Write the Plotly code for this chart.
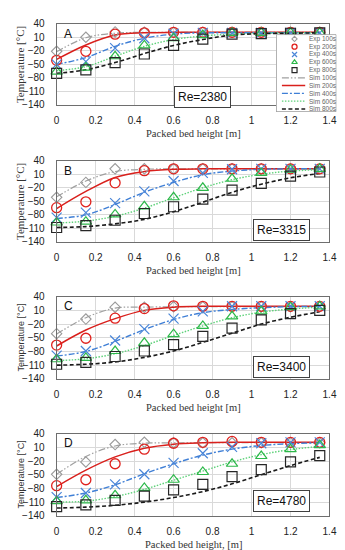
import plotly.graph_objects as go

# ---------------- data ----------------
X = [0, 0.15, 0.3, 0.45, 0.6, 0.75, 0.9, 1.05, 1.2, 1.35]
PANEL_LABELS = ["A", "B", "C", "D"]
RE_LABELS = ["Re=2380", "Re=3315", "Re=3400", "Re=4780"]
SERIES_NAMES = ["100s", "200s", "400s", "600s", "800s"]
X_TICKS = [0, 0.2, 0.4, 0.6, 0.8, 1, 1.2, 1.4]
X_TICK_TEXT = ["0", "0.2", "0.4", "0.6", "0.8", "1", "1.2", "1.4"]
Y_TICKS = [40, 10, -20, -50, -80, -110, -140]
X_TITLES = ["Packed bed height [m]", "Packed bed height [m]",
            "Packed bed height [m]", "Packed bed height, [m]"]
Y_TITLE = "Temperature [°C]"

# Panel A (Re=2380)
A_exp100 = [-21, 10, 22, 21, 21, 21, 21, 21, 21, 21]
A_exp200 = [-41, -21, 17, 20, 21, 21, 21, 21, 21, 21]
A_exp400 = [-50, -44, -14, 8, 18, 20, 20, 20, 20, 20]
A_exp600 = [-66, -57, -32, -8, 8, 15, 20, 20, 20, 20]
A_exp800 = [-70, -62, -46, -27, -8, 6, 17, 18, 19, 20]
A_sim100 = [-22, 9, 19, 21, 21, 21, 21, 21, 21, 21]
A_sim200 = [-39, -7, 15, 20, 21, 21, 21, 21, 21, 21]
A_sim400 = [-50, -35, -10, 8, 17, 20, 20, 20, 20, 20]
A_sim600 = [-64, -55, -32, -10, 5, 13, 17, 19, 20, 20]
A_sim800 = [-70, -62, -46, -26, -8, 5, 15, 18, 19, 20]

# Panel B (Re=3315)
B_exp100 = [-41, -8, 22, 22, 22, 22, 22, 22, 22, 22]
B_exp200 = [-64, -51, -9, 18, 22, 22, 22, 22, 22, 22]
B_exp400 = [-86, -75, -54, -28, -5, 13, 21, 22, 22, 22]
B_exp600 = [-97, -95, -79, -61, -41, -20, 0, 13, 20, 22]
B_exp800 = [-108, -104, -92, -77, -62, -45, -25, -10, 6, 15]
B_sim100 = [-40, -5, 16, 21, 22, 22, 22, 22, 22, 22]
B_sim200 = [-66, -28, 3, 16, 21, 22, 22, 22, 22, 22]
B_sim400 = [-88, -80, -57, -30, -8, 9, 17, 21, 22, 22]
B_sim600 = [-98, -94, -83, -65, -42, -20, -2, 10, 17, 20]
B_sim800 = [-108, -106, -100, -90, -73, -52, -30, -12, 2, 12]

# Panel C (Re=3400)
C_exp100 = [-41, -9, 17, 17, 18, 18, 18, 18, 18, 18]
C_exp200 = [-66, -51, -7, 14, 20, 19, 19, 19, 19, 19]
C_exp400 = [-89, -79, -56, -31, -8, 8, 19, 19, 19, 19]
C_exp600 = [-97, -94, -79, -61, -42, -24, -3, 8, 17, 19]
C_exp800 = [-108, -104, -91, -79, -65, -47, -29, -11, 3, 10]
C_sim100 = [-42, -6, 15, 17, 18, 18, 18, 18, 18, 18]
C_sim200 = [-68, -33, -8, 10, 17, 19, 19, 19, 19, 19]
C_sim400 = [-90, -80, -58, -32, -10, 5, 12, 16, 18, 19]
C_sim600 = [-100, -96, -85, -67, -45, -24, -6, 6, 13, 17]
C_sim800 = [-110, -108, -103, -93, -79, -60, -40, -20, -5, 7]

# Panel D (Re=4780)
D_exp100 = [-49, -22, 16, 21, 20, 20, 20, 20, 20, 20]
D_exp200 = [-74, -61, -26, 6, 19, 21, 23, 21, 21, 21]
D_exp400 = [-99, -90, -71, -49, -24, -3, 11, 19, 21, 21]
D_exp600 = [-108, -106, -95, -79, -61, -44, -26, -9, 6, 15]
D_exp800 = [-120, -116, -106, -97, -83, -71, -54, -39, -22, -8]
D_sim100 = [-49, -10, 13, 19, 20, 20, 20, 20, 20, 20]
D_sim200 = [-76, -40, -11, 8, 17, 20, 21, 21, 21, 21]
D_sim400 = [-100, -90, -72, -48, -26, -7, 6, 14, 18, 20]
D_sim600 = [-110, -108, -98, -82, -62, -42, -22, -6, 5, 12]
D_sim800 = [-123, -121, -117, -110, -100, -87, -70, -50, -30, -12]

EXP = [
    [A_exp100, A_exp200, A_exp400, A_exp600, A_exp800],
    [B_exp100, B_exp200, B_exp400, B_exp600, B_exp800],
    [C_exp100, C_exp200, C_exp400, C_exp600, C_exp800],
    [D_exp100, D_exp200, D_exp400, D_exp600, D_exp800],
]
SIM = [
    [A_sim100, A_sim200, A_sim400, A_sim600, A_sim800],
    [B_sim100, B_sim200, B_sim400, B_sim600, B_sim800],
    [C_sim100, C_sim200, C_sim400, C_sim600, C_sim800],
    [D_sim100, D_sim200, D_sim400, D_sim600, D_sim800],
]

# ---------------- styles ----------------
W, H = 345, 550
PX0, PX1 = 47, 328
TOPS = [10, 150, 289, 429]
BOTS = [93, 233, 373, 513]

MARKERS = [
    dict(symbol="diamond-open", size=8, color="#9a9a9a", line=dict(width=1.1, color="#9a9a9a")),
    dict(symbol="circle-open", size=10, color="#e0211d", line=dict(width=1.3, color="#e0211d")),
    dict(symbol="x-thin-open", size=10, color="#4a86d8", line=dict(width=1.2, color="#4a86d8")),
    dict(symbol="triangle-up-open", size=10, color="#2db84a", line=dict(width=1.2, color="#2db84a")),
    dict(symbol="square-open", size=10, color="#262626", line=dict(width=1.2, color="#262626")),
]
LINES = [
    dict(color="#a0a0a0", width=1.2, dash="7px,2px,1.5px,2px,1.5px,2px"),
    dict(color="#d9201c", width=1.5, dash="solid"),
    dict(color="#3f7fd6", width=1.4, dash="6px,2px,2px,2px"),
    dict(color="#5fd27a", width=1.4, dash="1.5px,1.5px"),
    dict(color="#1a1a1a", width=1.6, dash="4px,2.5px"),
]

TICK_FONT = dict(family="Liberation Sans, Arial", size=10, color="#222222")
XTITLE_FONT = dict(family="Liberation Serif, Times New Roman, serif", size=10.5, color="#333333")
YTITLE_FONTS = [
    dict(family="Liberation Serif, Times New Roman, serif", size=11, color="#333333"),
    dict(family="Liberation Serif, Times New Roman, serif", size=11, color="#333333"),
    dict(family="Liberation Sans, Arial", size=9, color="#333333"),
    dict(family="Liberation Sans, Arial", size=9, color="#333333"),
]


def py(p):
    """pixel y (from top) -> paper fraction"""
    return 1 - p / H


fig = go.Figure()
layout = dict(
    width=W, height=H, margin=dict(l=0, r=0, t=0, b=0),
    paper_bgcolor="white", plot_bgcolor="white", showlegend=False,
)
annotations = []

for i in range(4):
    n = "" if i == 0 else str(i + 1)
    xa, ya = "x" + n, "y" + n
    for k in range(5):
        fig.add_trace(go.Scatter(
            x=X, y=SIM[i][k], mode="lines", line=dict(shape="spline", smoothing=1.0, **LINES[k]),
            xaxis=xa, yaxis=ya, hoverinfo="skip"))
    for k in range(5):
        fig.add_trace(go.Scatter(
            x=X, y=EXP[i][k], mode="markers", marker=MARKERS[k], cliponaxis=False,
            xaxis=xa, yaxis=ya))
    layout["xaxis" + n] = dict(
        domain=[PX0 / W, PX1 / W], range=[0, 1.4], anchor=ya,
        tickvals=X_TICKS, ticktext=X_TICK_TEXT, tickfont=TICK_FONT,
        showgrid=True, gridcolor="#d9d9d9", gridwidth=1, zeroline=False,
        showline=True, linecolor="#6e6e6e", linewidth=1, mirror=True,
        ticks="", ticklabelstandoff=6,
    )
    layout["yaxis" + n] = dict(
        domain=[py(BOTS[i]), py(TOPS[i])], range=[-140, 40], anchor=xa,
        tickvals=Y_TICKS, tickfont=TICK_FONT,
        showgrid=True, gridcolor="#d9d9d9", gridwidth=1, zeroline=False,
        showline=True, linecolor="#6e6e6e", linewidth=1, mirror=True,
        ticks="", ticklabelstandoff=9,
    )
    # axis titles
    annotations.append(dict(
        xref="paper", yref="paper", x=(PX0 + PX1) / 2 / W, y=py(BOTS[i] + 29),
        text=X_TITLES[i], showarrow=False, font=XTITLE_FONT, xanchor="center", yanchor="middle"))
    annotations.append(dict(
        xref="paper", yref="paper", x=10 / W, y=py((TOPS[i] + BOTS[i]) / 2),
        text=Y_TITLE, showarrow=False, font=YTITLE_FONTS[i], textangle=-90,
        xanchor="center", yanchor="middle"))
    # panel letter
    annotations.append(dict(
        xref="paper", yref="paper", x=59 / W, y=py(TOPS[i] + 10),
        text=PANEL_LABELS[i], showarrow=False,
        font=dict(family="Liberation Sans, Arial", size=12, color="#111111"),
        xanchor="center", yanchor="middle"))

# Re boxes (pixel centres)
RE_POS = [(197, 85), (279, 221), (279, 361), (279, 498)]
for i, (cx, cy) in enumerate(RE_POS):
    annotations.append(dict(
        xref="paper", yref="paper", x=cx / W, y=py(cy), text=RE_LABELS[i],
        showarrow=False, font=dict(family="Liberation Sans, Arial", size=12, color="#111111"),
        bordercolor="#404040", borderwidth=1, borderpad=3, bgcolor="white",
        xanchor="center", yanchor="middle"))

# ---------------- custom legend on panel A ----------------
LX0, LX1, LY0, LY1 = 273, 335, 21, 100
layout["xaxis5"] = dict(domain=[LX0 / W, LX1 / W], range=[LX0, LX1], visible=False,
                        anchor="y5", fixedrange=True)
layout["yaxis5"] = dict(domain=[py(LY1), py(LY0)], range=[LY1, LY0], visible=False,
                        anchor="x5", fixedrange=True)
fig.add_trace(go.Scatter(
    x=[LX0, LX1, LX1, LX0, LX0], y=[LY0, LY0, LY1, LY1, LY0], mode="lines",
    fill="toself", fillcolor="white", line=dict(color="#6e6e6e", width=1),
    xaxis="x5", yaxis="y5", hoverinfo="skip"))
LEG_NAMES = ["Exp " + s for s in SERIES_NAMES] + ["Sim " + s for s in SERIES_NAMES]
for j in range(10):
    yy = 25.5 + 7.95 * j
    if j < 5:
        m = dict(MARKERS[j])
        m["size"] = 5 if j != 0 else 4
        fig.add_trace(go.Scatter(x=[292], y=[yy], mode="markers", marker=m,
                                 xaxis="x5", yaxis="y5", cliponaxis=False))
    else:
        ln = dict(LINES[j - 5])
        fig.add_trace(go.Scatter(x=[279, 303], y=[yy, yy], mode="lines", line=ln,
                                 xaxis="x5", yaxis="y5", cliponaxis=False))
    annotations.append(dict(
        xref="x5", yref="y5", x=305, y=yy, text=LEG_NAMES[j], showarrow=False,
        font=dict(family="Liberation Sans, Arial", size=6.5, color="#666666"),
        xanchor="left", yanchor="middle"))

layout["annotations"] = annotations
fig.update_layout(**layout)
fig.write_html("out.html")
